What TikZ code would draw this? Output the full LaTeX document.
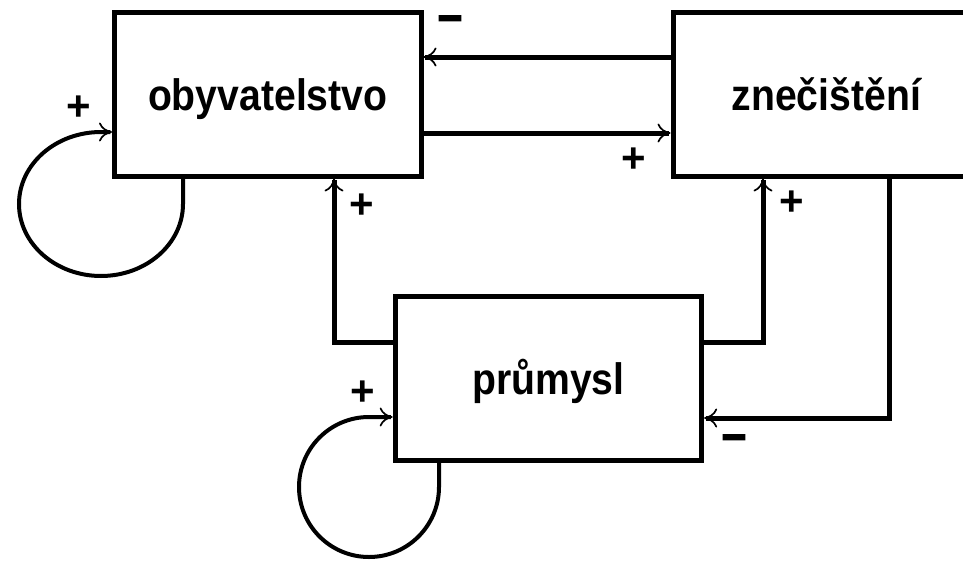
\documentclass[tikz,border=0pt]{standalone}
\usepackage{fontspec}
\setmainfont{Liberation Sans}
\newfontfamily\boxfont[FakeStretch=0.89]{Liberation Sans}
\newfontfamily\heavyfont[FakeBold=4]{Liberation Sans}
\usetikzlibrary{arrows.meta}
\begin{document}
\begin{tikzpicture}[x=1pt,y=-1pt,
  box/.style={draw, line width=5pt, rectangle, minimum width=306.5pt, minimum height=163.5pt, inner sep=0pt, text height=36pt, text depth=4pt, font=\boxfont\fontsize{44}{50}\selectfont\bfseries},
  tip/.style={-{Computer Modern Rightarrow[length=13pt,width=19pt,line width=1.7pt]}},
  link/.style={line width=5pt, tip},
  selfloop/.style={line width=4pt, tip},
  sign/.style={font=\fontsize{42}{46}\selectfont\bfseries, inner sep=0pt},
  minussign/.style={font=\heavyfont\fontsize{42}{46}\selectfont\bfseries, inner sep=0pt}
]
\useasboundingbox (0,0) rectangle (963,562);
\node[box] (obyv) at (267.75,94.25) {obyvatelstvo};
\node[box] (zne) at (826.25,94.25) {znečištění};
\node[box] (prum) at (548.4,378.4) {průmysl};

% connectors between boxes
\draw[link] (zne.west |- 0,57) -- (obyv.east |- 0,57);
\draw[link] (obyv.east |- 0,133) -- (zne.west |- 0,133);
\draw[link] (prum.west |- 0,342) -| (obyv.south -| 334,0);
\draw[link] (prum.east |- 0,342) -| (zne.south -| 763,0);
\draw[link] (zne.south -| 889,0) |- (prum.east |- 0,418);

% self loops
\draw[selfloop] (obyv.south -| 183,0) -- (183,204) arc[start angle=0,end angle=270,x radius=82,y radius=72] -- (obyv.west |- 0,132);
\draw[selfloop] (prum.south -| 439,0) -- (439,487) arc[start angle=0,end angle=270,radius=70] -- (prum.west |- 0,417);

% signs
\node[sign] (s1) at (79,108) {+};
\node[sign] (s2) at (362,206) {+};
\node[minussign] (s3) at (450,24) {−};
\node[sign] (s4) at (634,160) {+};
\node[sign] (s5) at (792,203) {+};
\node[minussign] (s6) at (734,443) {−};
\node[sign] (s7) at (363,393) {+};
\end{tikzpicture}
\end{document}
